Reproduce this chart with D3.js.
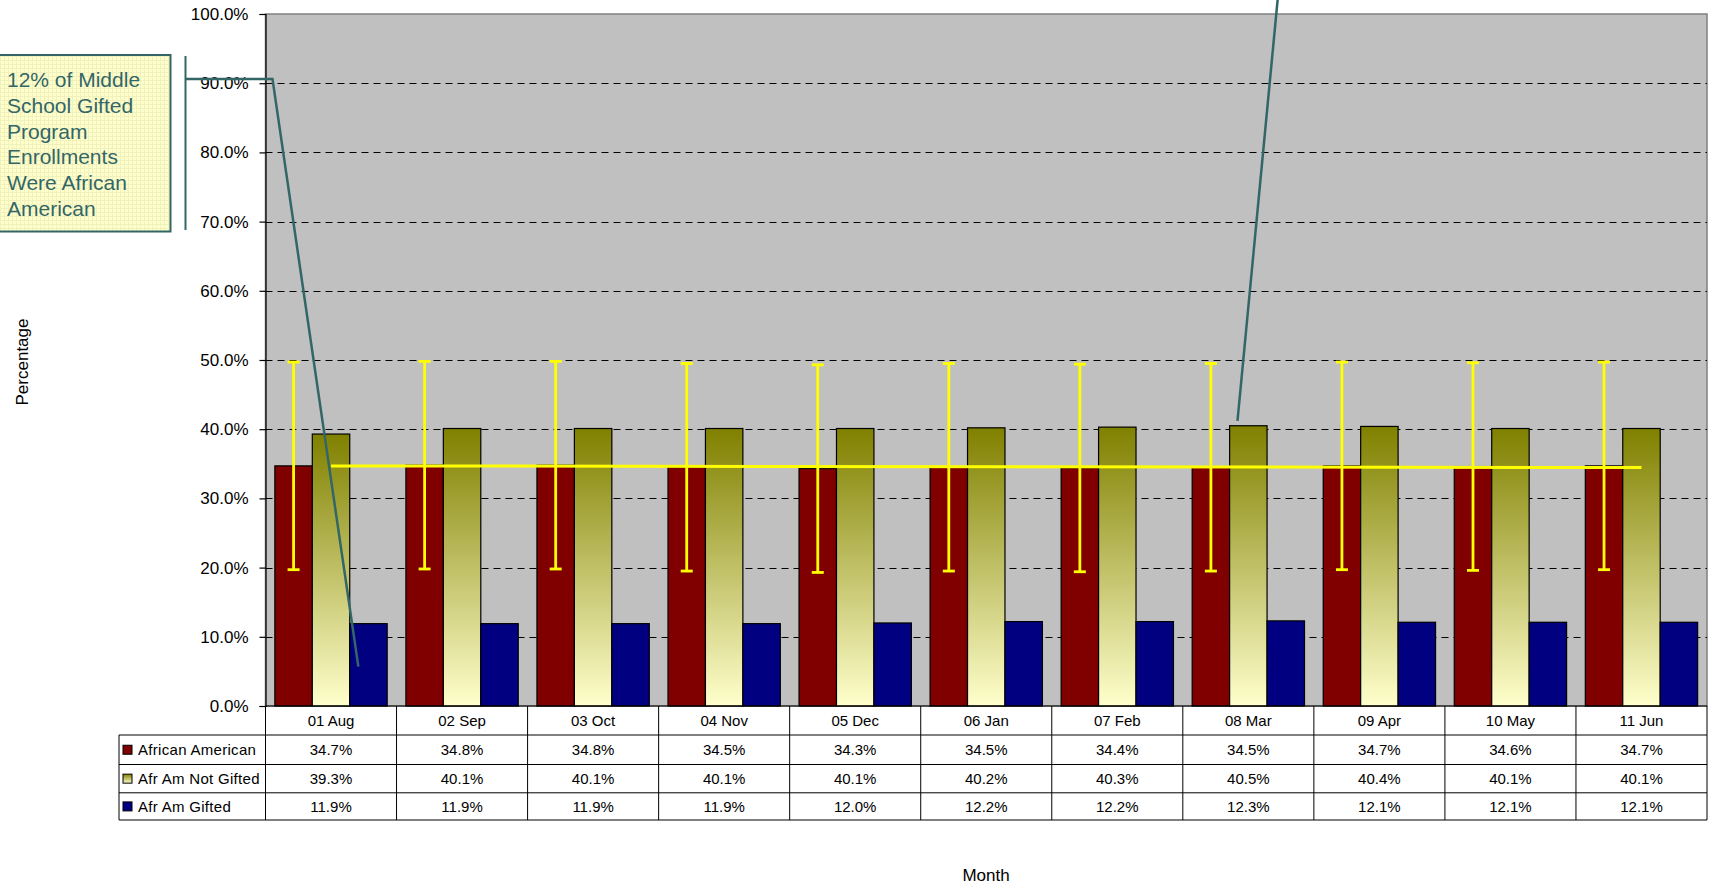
<!DOCTYPE html>
<html>
<head>
<meta charset="utf-8">
<script src="https://cdn.jsdelivr.net/npm/d3@7"></script>
<style>
  html, body { margin: 0; padding: 0; background: #ffffff; }
  svg { display: block; font-family: Arial, "Liberation Sans", sans-serif; }
</style>
</head>
<body>
<svg id="chart" width="1712" height="885"></svg>
<script>
// Monthly shares (percent) for middle school enrollment
const categories = ["01 Aug", "02 Sep", "03 Oct", "04 Nov", "05 Dec", "06 Jan", "07 Feb", "08 Mar", "09 Apr", "10 May", "11 Jun"];
const africanAmerican = [34.7, 34.8, 34.8, 34.5, 34.3, 34.5, 34.4, 34.5, 34.7, 34.6, 34.7];
const afrAmNotGifted = [39.3, 40.1, 40.1, 40.1, 40.1, 40.2, 40.3, 40.5, 40.4, 40.1, 40.1];
const afrAmGifted = [11.9, 11.9, 11.9, 11.9, 12.0, 12.2, 12.2, 12.3, 12.1, 12.1, 12.1];
const seriesNames = ["African American", "Afr Am Not Gifted", "Afr Am Gifted"];
const yTicks = [0, 10, 20, 30, 40, 50, 60, 70, 80, 90, 100];
// Fixed +/- amount of the error bars on the African American series
const errorAmount = 15;
// Straight reference line across the olive bars
const referenceLine = [{ category: "01 Aug", value: 34.7 }, { category: "11 Jun", value: 34.45 }];
const calloutLines = ["12% of Middle", "School Gifted", "Program", "Enrollments", "Were African", "American"];

const seriesValues = [africanAmerican, afrAmNotGifted, afrAmGifted];
const keys = ["aa", "ng", "g"];
const rows = categories.map((c, i) => ({ category: c, aa: africanAmerican[i], ng: afrAmNotGifted[i], g: afrAmGifted[i] }));

const svg = d3.select("#chart");
const plot = { left: 265.5, right: 1707, top: 14, bottom: 706 };

const x = d3.scaleBand().domain(categories).range([plot.left, plot.right]).paddingInner(0).paddingOuter(0);
const x1 = d3.scaleBand().domain(keys).range([0, x.bandwidth()]).paddingInner(0).paddingOuter(0.25);
const y = d3.scaleLinear().domain([0, 100]).range([plot.bottom, plot.top]);

const defs = svg.append("defs");
const grad = defs.append("linearGradient").attr("id", "oliveGrad").attr("x1", 0).attr("y1", 0).attr("x2", 0).attr("y2", 1);
grad.append("stop").attr("offset", "0%").attr("stop-color", "#808000");
grad.append("stop").attr("offset", "100%").attr("stop-color", "#FFFFCC");

const tex = defs.append("pattern").attr("id", "boxTexture").attr("width", 4).attr("height", 4).attr("patternUnits", "userSpaceOnUse");
tex.append("rect").attr("width", 4).attr("height", 4).attr("fill", "#FFFFCC");
tex.append("path").attr("d", "M0 0.5H4M0.5 0V4").attr("stroke", "#F1F1BE").attr("stroke-width", 1);

const fills = { aa: "#800000", ng: "url(#oliveGrad)", g: "#000080" };

// Plot area
svg.append("rect")
  .attr("x", plot.left).attr("y", plot.top)
  .attr("width", plot.right - plot.left).attr("height", plot.bottom - plot.top)
  .attr("fill", "#C0C0C0").attr("stroke", "#808080").attr("stroke-width", 1.5);

// Dashed gridlines
svg.append("g").selectAll("line").data(yTicks.filter(t => t > 0 && t < 100)).join("line")
  .attr("x1", plot.left).attr("x2", plot.right)
  .attr("y1", d => Math.round(y(d)) + 0.5).attr("y2", d => Math.round(y(d)) + 0.5)
  .attr("stroke", "#000").attr("stroke-width", 1).attr("stroke-dasharray", "7,5");

// Bars
const groups = svg.append("g").selectAll("g").data(rows).join("g")
  .attr("transform", d => `translate(${x(d.category)},0)`);
groups.selectAll("rect").data(d => keys.map(k => ({ key: k, value: d[k] }))).join("rect")
  .attr("x", d => x1(d.key)).attr("width", x1.bandwidth())
  .attr("y", d => y(d.value)).attr("height", d => y(0) - y(d.value))
  .attr("fill", d => fills[d.key]).attr("stroke", "#000").attr("stroke-width", 1.2);

// Error bars on the African American bars
const eb = svg.append("g").attr("stroke", "#FFFF00").attr("stroke-width", 2.8);
rows.forEach(d => {
  const cx = x(d.category) + x1("aa") + x1.bandwidth() / 2;
  const lo = y(d.aa - errorAmount), hi = y(d.aa + errorAmount);
  eb.append("line").attr("x1", cx).attr("x2", cx).attr("y1", lo).attr("y2", hi);
  eb.append("line").attr("x1", cx - 6).attr("x2", cx + 6).attr("y1", lo).attr("y2", lo);
  eb.append("line").attr("x1", cx - 6).attr("x2", cx + 6).attr("y1", hi).attr("y2", hi);
});

// Reference line
svg.append("path")
  .datum(referenceLine)
  .attr("d", d3.line().x(d => x(d.category) + x1("ng") + x1.bandwidth() / 2).y(d => y(d.value)))
  .attr("fill", "none").attr("stroke", "#FFFF00").attr("stroke-width", 3);

// Y axis
const yAxis = d3.axisLeft(y).tickValues(yTicks).tickSize(6).tickPadding(11).tickFormat(d => d.toFixed(1) + "%");
const ya = svg.append("g").attr("transform", `translate(${plot.left},0)`).call(yAxis);
ya.select(".domain").attr("stroke", "#000").attr("stroke-width", 1.2);
ya.selectAll(".tick line").attr("stroke", "#000").attr("stroke-width", 1.2);
ya.selectAll(".tick text").attr("font-size", 17).attr("fill", "#000").attr("font-family", "Arial, 'Liberation Sans', sans-serif");

// Axis titles
svg.append("text").attr("transform", "translate(28,362) rotate(-90)").attr("text-anchor", "middle")
  .attr("font-size", 17).text("Percentage");
svg.append("text").attr("x", 986).attr("y", 881).attr("text-anchor", "middle")
  .attr("font-size", 17).text("Month");

// Data table under the plot
const rowY = [706, 735, 764.5, 792.8, 820];
const legendLeft = 119;
const table = svg.append("g").attr("stroke", "#000").attr("stroke-width", 1);
rowY.forEach((ry, i) => {
  table.append("line").attr("x1", i === 0 ? plot.left : legendLeft).attr("x2", plot.right)
    .attr("y1", ry).attr("y2", ry);
});
x.domain().forEach(c => {
  table.append("line").attr("x1", x(c)).attr("x2", x(c)).attr("y1", rowY[0]).attr("y2", rowY[4]);
});
table.append("line").attr("x1", plot.right).attr("x2", plot.right).attr("y1", rowY[0]).attr("y2", rowY[4]);
table.append("line").attr("x1", legendLeft).attr("x2", legendLeft).attr("y1", rowY[1]).attr("y2", rowY[4]);

const tText = svg.append("g").attr("font-size", 15).attr("fill", "#000");
categories.forEach(c => {
  tText.append("text").attr("x", x(c) + x.bandwidth() / 2).attr("y", (rowY[0] + rowY[1]) / 2 + 5.5)
    .attr("text-anchor", "middle").text(c);
});
seriesValues.forEach((vals, si) => {
  const cy = (rowY[si + 1] + rowY[si + 2]) / 2;
  tText.append("rect").attr("x", 123).attr("y", cy - 4.5).attr("width", 9).attr("height", 9)
    .attr("fill", fills[keys[si]]).attr("stroke", "#000").attr("stroke-width", 1);
  tText.append("text").attr("x", 138).attr("y", cy + 5.5).attr("letter-spacing", 0.3).text(seriesNames[si]);
  vals.forEach((v, ci) => {
    tText.append("text").attr("x", x(categories[ci]) + x.bandwidth() / 2).attr("y", cy + 5.5)
      .attr("text-anchor", "middle").text(v.toFixed(1) + "%");
  });
});

// Callout box with its leader line
const teal = "#336666";
svg.append("rect").attr("x", -2).attr("y", 55).attr("width", 172.5).attr("height", 176.5)
  .attr("fill", "url(#boxTexture)").attr("stroke", teal).attr("stroke-width", 2);
svg.append("g").attr("font-size", 21).attr("fill", teal).selectAll("text").data(calloutLines).join("text")
  .attr("x", 7).attr("y", (d, i) => 87 + i * 25.8).text(d => d);

const leaderStroke = { stroke: teal, width: 2.5 };
svg.append("line").attr("x1", 185.5).attr("x2", 185.5).attr("y1", 56).attr("y2", 230)
  .attr("stroke", teal).attr("stroke-width", 2);
const giftedTip = { x: x("01 Aug") + x1("g") + x1.bandwidth() * 0.23, y: y(5.7) };
svg.append("path")
  .attr("d", `M185.5,${y(90.6)}L${plot.left + 7},${y(90.6)}L${giftedTip.x},${giftedTip.y}`)
  .attr("fill", "none").attr("stroke", leaderStroke.stroke).attr("stroke-width", leaderStroke.width);

// Second leader line coming from above the chart
const marchTip = { x: x("08 Mar") + x1("ng") + x1.bandwidth() * 0.21, y: y(41.2) };
svg.append("line").attr("x1", 1277.7).attr("y1", -1).attr("x2", marchTip.x).attr("y2", marchTip.y)
  .attr("stroke", leaderStroke.stroke).attr("stroke-width", leaderStroke.width);
</script>
</body>
</html>
